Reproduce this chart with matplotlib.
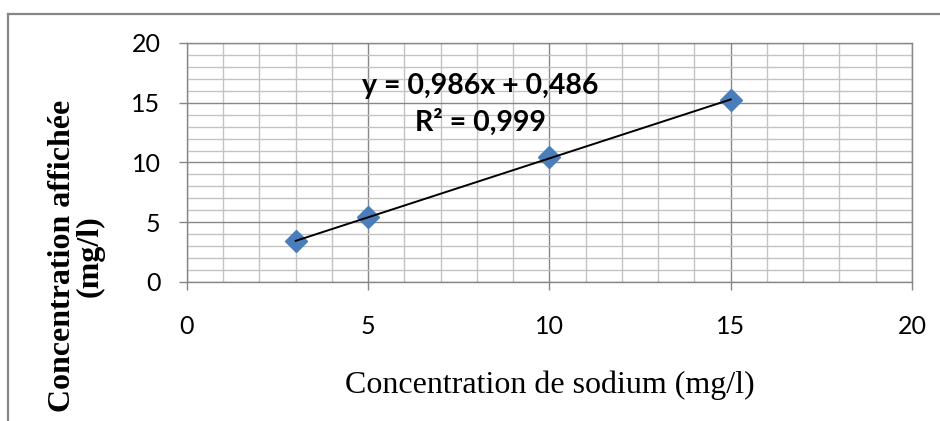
"""Calibration curve: displayed concentration vs sodium concentration."""

import matplotlib

matplotlib.use("Agg")
import matplotlib.pyplot as plt
import numpy as np
from matplotlib.lines import Line2D

# Data
sodium = [3, 5, 10, 15]
displayed = [3.4, 5.4, 10.5, 15.2]
slope = 0.986
intercept = 0.486
equation_text = "y = 0,986x + 0,486\nR² = 0,999"

x_label = "Concentration de sodium (mg/l)"
y_label = "Concentration affichée\n(mg/l)"
ticks = [0, 5, 10, 15, 20]

major_grey = "#878787"
minor_grey = "#c3c3c3"
marker_blue = "#4a7ebb"


def main():
    fig = plt.figure(figsize=(9.4, 4.21), dpi=100)
    ax = fig.add_axes([0.1989, 0.3302, 0.7713, 0.5677])

    # Scatter points
    ax.plot(sodium, displayed, linestyle="none", marker="D", markersize=11,
            color=marker_blue, markeredgecolor=marker_blue, zorder=4)

    # Linear trendline between first and last point
    fit_x = np.array([sodium[0], sodium[-1]])
    ax.plot(fit_x, slope * fit_x + intercept, color="black", lw=1.4, zorder=5)

    ax.text(8.1, 14.85, equation_text, ha="center", va="center",
            multialignment="center", fontsize=20.5, fontweight="bold",
            family="Lato", linespacing=1.45, zorder=6)

    ax.set_xlim(0, 20)
    ax.set_ylim(0, 20)
    ax.set_xticks(ticks)
    ax.set_yticks(ticks)
    ax.set_xticks(np.arange(0, 21, 1), minor=True)
    ax.set_yticks(np.arange(0, 21, 1), minor=True)

    ax.grid(which="minor", color=minor_grey, lw=1.0, zorder=0)
    ax.grid(which="major", color=major_grey, lw=1.0, zorder=1)
    ax.set_axisbelow(True)

    for spine in ax.spines.values():
        spine.set_color(major_grey)
        spine.set_linewidth(1.0)

    ax.tick_params(which="major", direction="out", length=6, width=1.0,
                   color=major_grey, labelsize=18)
    ax.tick_params(which="minor", length=0)
    ax.tick_params(axis="x", pad=18)
    ax.tick_params(axis="y", pad=13)
    for lbl in ax.get_xticklabels() + ax.get_yticklabels():
        lbl.set_family("Lato")

    ax.set_xlabel(x_label, family="Liberation Serif", fontsize=23, labelpad=23)
    fig.text(0.0815, 0.392, y_label, rotation=90, ha="center", va="center",
             multialignment="center", family="Liberation Serif",
             fontweight="bold", fontsize=23, linespacing=0.95)

    # Chart border (only top and left visible)
    fig.add_artist(Line2D([8 / 940, 1.0], [1 - 14 / 421, 1 - 14 / 421],
                          transform=fig.transFigure, color=major_grey, lw=1.6))
    fig.add_artist(Line2D([8 / 940, 8 / 940], [0.0, 1 - 14 / 421],
                          transform=fig.transFigure, color=major_grey, lw=1.6))

    fig.savefig("out.png", dpi=100)


if __name__ == "__main__":
    main()
